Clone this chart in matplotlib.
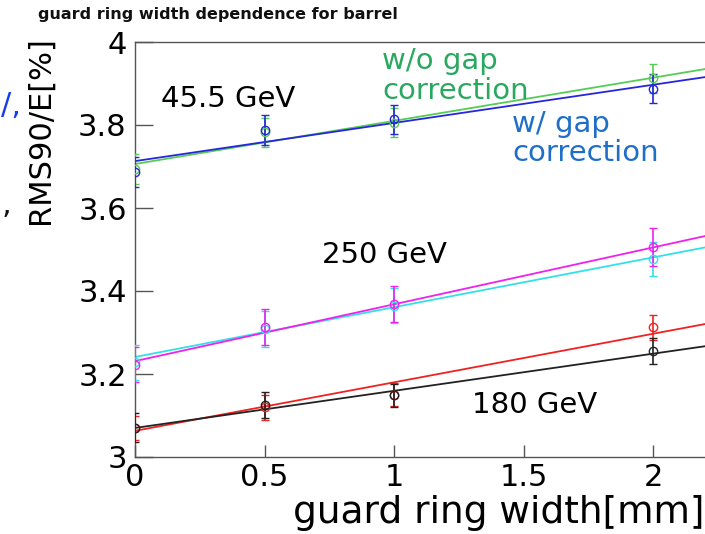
import matplotlib.pyplot as plt
import numpy as np

# guard ring width [mm]
widths = [0.0, 0.5, 1.0, 2.0]

# RMS90/E [%] per beam energy, with and without gap correction
e45_wo = [3.695, 3.782, 3.806, 3.913]
e45_wo_err = [0.036, 0.036, 0.035, 0.035]
e45_w = [3.686, 3.788, 3.814, 3.887]
e45_w_err = [0.036, 0.036, 0.035, 0.035]

e250_wo = [3.228, 3.308, 3.365, 3.477]
e250_wo_err = [0.042, 0.043, 0.043, 0.042]
e250_w = [3.222, 3.313, 3.369, 3.506]
e250_w_err = [0.042, 0.043, 0.043, 0.045]

e180_wo = [3.070, 3.120, 3.150, 3.313]
e180_wo_err = [0.030, 0.030, 0.028, 0.030]
e180_w = [3.070, 3.125, 3.149, 3.255]
e180_w_err = [0.035, 0.031, 0.028, 0.032]

# straight-line fits (intercept, slope)
fit_e45_wo = (3.706, 0.104)
fit_e45_w = (3.713, 0.092)
fit_e250_wo = (3.241, 0.120)
fit_e250_w = (3.231, 0.137)
fit_e180_wo = (3.063, 0.117)
fit_e180_w = (3.070, 0.0895)

x_range = (0.0, 2.2)
y_ticks = [3.0, 3.2, 3.4, 3.6, 3.8, 4.0]
y_tick_labels = ['3', '3.2', '3.4', '3.6', '3.8', '4']
x_ticks = [0, 0.5, 1, 1.5, 2]
x_tick_labels = ['0', '0.5', '1', '1.5', '2']

plt.rcParams['font.family'] = ['DejaVu Sans']

fig = plt.figure(figsize=(7.05, 5.34), dpi=100)
ax = fig.add_axes([135 / 705, 77 / 534, 570 / 705, 415 / 534])

xfit = np.linspace(x_range[0], x_range[1], 50)


def draw_set(vals, errs, fit, color):
    ax.plot(xfit, fit[0] + fit[1] * xfit, color=color, lw=1.3, zorder=2)
    ax.errorbar(widths, vals, yerr=errs, fmt='o', mfc='none', mec=color,
                ecolor=color, ms=6, mew=1.0, elinewidth=1.2, capsize=3,
                capthick=1.0, zorder=3)


draw_set(e45_wo, e45_wo_err, fit_e45_wo, '#55cc55')
draw_set(e45_w, e45_w_err, fit_e45_w, '#2626dd')
draw_set(e250_wo, e250_wo_err, fit_e250_wo, '#33e0e8')
draw_set(e250_w, e250_w_err, fit_e250_w, '#ee22ee')
draw_set(e180_wo, e180_wo_err, fit_e180_wo, '#ee2222')
draw_set(e180_w, e180_w_err, fit_e180_w, '#222222')

ax.set_xlim(*x_range)
ax.set_ylim(3.0, 4.0)
ax.set_xticks(x_ticks)
ax.set_xticklabels(x_tick_labels)
ax.set_yticks(y_ticks)
ax.set_yticklabels(y_tick_labels)

for side in ('left', 'bottom', 'top'):
    ax.spines[side].set_color('#555555')
    ax.spines[side].set_linewidth(1.0)
ax.spines['right'].set_visible(False)

ax.tick_params(axis='y', direction='in', length=13, width=1.0, color='#555555',
               labelsize=22, pad=6, right=False)
ax.tick_params(axis='x', direction='in', length=9, width=1.0, color='#555555',
               labelsize=22, pad=4, top=False)

# axis titles, ROOT style: y title at the top, x title at the right
fig.text(40 / 705, 1 - 36 / 534, 'RMS90/E[%]', fontsize=22, rotation=90,
         ha='center', va='top')
fig.text(0.999, 0.006, 'guard ring width[mm]', fontsize=27, ha='right', va='bottom')

fig.text(38 / 705, 1 - 15 / 534, 'guard ring width dependence for barrel',
         fontsize=11.5, fontweight='bold', ha='left', va='center', color='#111111')

# annotations
ax.text(0.10, 3.862, '45.5 GeV', fontsize=21, ha='left', va='center')
ax.text(0.72, 3.487, '250 GeV', fontsize=21, ha='left', va='center')
ax.text(1.30, 3.125, '180 GeV', fontsize=21, ha='left', va='center')
ax.text(0.955, 3.918, 'w/o gap\ncorrection', fontsize=21, ha='left', va='center',
        color='#2aa860', linespacing=1.05)
ax.text(1.455, 3.768, 'w/ gap\ncorrection', fontsize=21, ha='left', va='center',
        color='#1f6fc8', linespacing=1.05)

# fragments of neighbouring slide text at the left edge
fig.text(0.002, 1 - 105 / 534, '/,', fontsize=22, color='#1a3cf0', ha='left', va='center')
fig.text(0.002, 1 - 205 / 534, ',', fontsize=22, color='#111111', ha='left', va='center')

plt.savefig('out.png', dpi=100)
